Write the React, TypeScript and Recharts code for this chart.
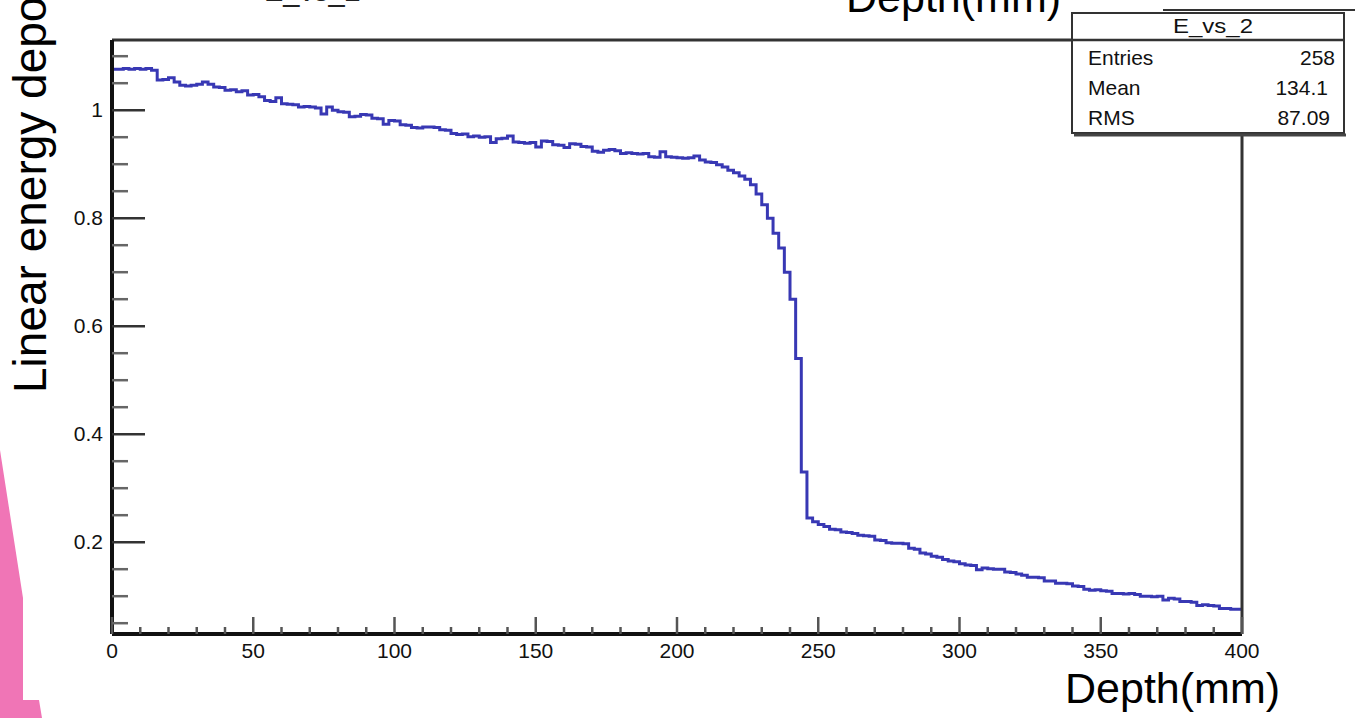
import { LineChart, Line, XAxis, YAxis } from "recharts";

// Linear energy deposition per 2 mm bin (value at bin right edge)
const edep0to100 = [
  0.89, 1.076, 1.076, 1.077, 1.076, 1.077, 1.076, 1.077, 1.074, 1.056, 1.057,
  1.06, 1.052, 1.046, 1.045, 1.046, 1.048, 1.052, 1.048, 1.043, 1.042,
  1.037, 1.038, 1.034, 1.036, 1.028, 1.029, 1.025, 1.018, 1.016, 1.023,
  1.012, 1.011, 1.01, 1.006, 1.007, 1.006, 1.004, 0.993, 1.006, 1.0,
  0.997, 0.996, 0.988, 0.989, 0.992, 0.991, 0.985, 0.984, 0.974, 0.981,
];
const edep102to200 = [
  0.98, 0.973, 0.972, 0.968, 0.967, 0.969, 0.969, 0.968, 0.964, 0.963,
  0.957, 0.955, 0.956, 0.951, 0.952, 0.95, 0.951, 0.94, 0.947, 0.948,
  0.952, 0.941, 0.94, 0.939, 0.94, 0.932, 0.943, 0.942, 0.936, 0.935,
  0.931, 0.938, 0.937, 0.933, 0.932, 0.924, 0.922, 0.926, 0.927, 0.925,
  0.92, 0.921, 0.92, 0.919, 0.92, 0.914, 0.913, 0.923, 0.914, 0.913,
];
const edep202to300 = [
  0.912, 0.911, 0.912, 0.915, 0.908, 0.904, 0.903, 0.899, 0.895, 0.889,
  0.884, 0.878, 0.872, 0.862, 0.845, 0.825, 0.8, 0.772, 0.745, 0.7,
  0.65, 0.54, 0.33, 0.245, 0.238, 0.233, 0.229, 0.224, 0.223, 0.219,
  0.218, 0.216, 0.213, 0.212, 0.211, 0.204, 0.203, 0.199, 0.198, 0.198,
  0.197, 0.189, 0.187, 0.18, 0.178, 0.174, 0.172, 0.168, 0.165, 0.164,
];
const edep302to400 = [
  0.16, 0.158, 0.157, 0.149, 0.152, 0.151, 0.15, 0.15, 0.145, 0.144,
  0.141, 0.139, 0.135, 0.135, 0.134, 0.128, 0.128, 0.124, 0.124, 0.123,
  0.119, 0.118, 0.113, 0.111, 0.112, 0.11, 0.109, 0.105, 0.105, 0.104,
  0.105, 0.103, 0.1, 0.1, 0.099, 0.1, 0.093, 0.096, 0.095, 0.09,
  0.09, 0.089, 0.083, 0.084, 0.083, 0.082, 0.077, 0.077, 0.076, 0.076,
];

const BIN_MM = 2;
const xTicks = [
  0, 10, 20, 30, 40, 50, 60, 70, 80, 90, 100, 110, 120, 130, 140, 150, 160, 170,
  180, 190, 200, 210, 220, 230, 240, 250, 260, 270, 280, 290, 300, 310, 320,
  330, 340, 350, 360, 370, 380, 390, 400,
];
const yTicks = [
  0.05, 0.1, 0.15, 0.2, 0.25, 0.3, 0.35, 0.4, 0.45, 0.5, 0.55, 0.6, 0.65, 0.7,
  0.75, 0.8, 0.85, 0.9, 0.95, 1.0, 1.05, 1.1,
];
const statRows = [
  ["Entries", "258"],
  ["Mean", "134.1"],
  ["RMS", "87.09"],
];

const data = [...edep0to100, ...edep102to200, ...edep202to300, ...edep302to400].map(
  (v, i) => ({ depth: i * BIN_MM, edep: v })
);

const tickFont = "'Liberation Sans', Arial, sans-serif";

function XTick(props: any) {
  const { x, y, payload } = props;
  const v = payload.value as number;
  const major = v % 50 === 0;
  return (
    <g>
      <line x1={x} x2={x} y1={y} y2={y - (major ? 17 : 7)} stroke="#555" strokeWidth={2.5} />
      {major && (
        <text x={x} y={y + 24} textAnchor="middle" fontSize={21} fontFamily={tickFont} fill="#111">
          {v}
        </text>
      )}
    </g>
  );
}

function YTick(props: any) {
  const { x, y, payload } = props;
  const v = payload.value as number;
  const major = Math.abs(v * 5 - Math.round(v * 5)) < 1e-6;
  return (
    <g>
      <line x1={x} x2={x + (major ? 33 : 16)} y1={y} y2={y} stroke={major ? "#333" : "#666"} strokeWidth={2.5} />
      {major && (
        <text x={x - 9} y={y + 7} textAnchor="end" fontSize={21} fontFamily={tickFont} fill="#111">
          {Number(v.toFixed(1)).toString()}
        </text>
      )}
    </g>
  );
}

export default function App() {
  const big = "'Liberation Sans', Arial, sans-serif";
  return (
    <div style={{ position: "fixed", left: 0, top: 0, width: 1355, height: 718, background: "#fff", overflow: "hidden" }}>
      <LineChart width={1355} height={718} data={data} margin={{ top: 39, right: 112, bottom: 83, left: 111 }}>
        <XAxis
          dataKey="depth"
          type="number"
          domain={[0, 400]}
          ticks={xTicks}
          interval={0}
          tick={<XTick />}
          tickLine={false}
          tickSize={0}
          tickMargin={0}
          height={1}
          axisLine={{ stroke: "#111", strokeWidth: 4 }}
          allowDataOverflow
        />
        <XAxis
          xAxisId="top"
          orientation="top"
          type="number"
          domain={[0, 400]}
          tick={false}
          tickLine={false}
          height={1}
          axisLine={{ stroke: "#333", strokeWidth: 3 }}
        />
        <YAxis
          type="number"
          domain={[0.03, 1.13]}
          ticks={yTicks}
          interval={0}
          tick={<YTick />}
          tickLine={false}
          tickSize={0}
          tickMargin={0}
          width={1}
          axisLine={{ stroke: "#111", strokeWidth: 4 }}
          allowDataOverflow
        />
        <YAxis
          yAxisId="right"
          orientation="right"
          type="number"
          domain={[0, 1]}
          tick={false}
          tickLine={false}
          width={1}
          axisLine={{ stroke: "#333", strokeWidth: 3 }}
        />
        <Line
          type="stepBefore"
          dataKey="edep"
          stroke="#3838b4"
          strokeWidth={3}
          dot={false}
          isAnimationActive={false}
        />
      </LineChart>
      <svg width={1355} height={718} style={{ position: "absolute", left: 0, top: 0, pointerEvents: "none" }}>
        <polygon points="0,450 23,598 23,700 39,700 42,718 0,718" fill="#f075b6" />
        <text x={264} y={1} fontSize={29} fontFamily={big} fill="#222">E_vs_2</text>
        <text x={846} y={12} fontSize={43} fontFamily={big} fill="#000">Depth(mm)</text>
        <text x={1065} y={703} fontSize={43} fontFamily={big} fill="#000">Depth(mm)</text>
        <text x={46} y={393} fontSize={46} fontFamily={big} fill="#000" transform="rotate(-90 46 393)">
          Linear energy deposition
        </text>
        {/* stats box */}
        <line x1={1163} x2={1355} y1={10} y2={10} stroke="#333" strokeWidth={2} />
        <rect x={1072} y={13} width={272} height={120} fill="#fff" stroke="#333" strokeWidth={2} />
        <line x1={1074} x2={1346} y1={135} y2={135} stroke="#444" strokeWidth={3} />
        <line x1={1072} x2={1344} y1={40} y2={40} stroke="#333" strokeWidth={2.5} />
        <text x={1213} y={33} textAnchor="middle" fontSize={21} fontFamily={tickFont} fill="#111" textLength={80} lengthAdjust="spacingAndGlyphs">
          E_vs_2
        </text>
        {statRows.map(([k, v], i) => (
          <g key={k}>
            <text x={1088} y={65 + i * 30} fontSize={21} fontFamily={tickFont} fill="#111">{k}</text>
            <text x={[1335, 1328, 1330][i]} y={65 + i * 30} textAnchor="end" fontSize={21} fontFamily={tickFont} fill="#111">{v}</text>
          </g>
        ))}
      </svg>
    </div>
  );
}
